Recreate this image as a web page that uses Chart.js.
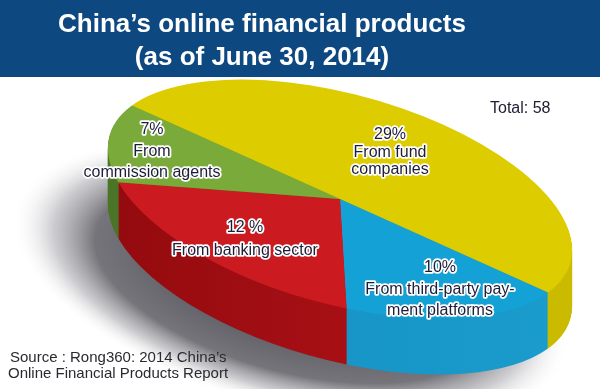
<!DOCTYPE html>
<html>
<head>
<meta charset="utf-8">
<script src="https://cdn.jsdelivr.net/npm/chart.js@4.4.1/dist/chart.umd.min.js"></script>
<style>
  body { margin: 0; background: #fff; }
  #wrap { width: 600px; height: 389px; }
</style>
</head>
<body>
<div id="wrap"><canvas id="pie"></canvas></div>
<script>
// data (counts, total 58)
var categories = ["From fund companies", "From third-party payment platforms", "From banking sector", "From commission agents"];
var values = [29, 10, 12, 7];
var shareText = ["29%", "10%", "12 %", "7%"];
var labelText = [
  ["From fund", "companies"],
  ["From third-party pay-", "ment platforms"],
  ["From banking sector"],
  ["From", "commission agents"]
];
var totalText = "Total: 58";
var titleLines = ["China\u2019s online financial products", "(as of June 30, 2014)"];
var sourceLines = ["Source : Rong360: 2014 China\u2019s", "Online Financial Products Report"];

// styles and placement
var topColors = ["#dccc00", "#14a2d6", "#cc1a21", "#79aa3a"];
var sideColors = [["#b5a500", "#cbbb00"], ["#138fc0", "#1a9ccd"], ["#930a0e", "#b8151b"], ["#4a7426", "#5b8a31"]];
var ell = { cx: 340, cy: 199, a: 239, b: 105, tilt: 15.4, depth: 56 };
var labelPos = [
  { x: 390, y: [139, 157, 174] },
  { x: 440, y: [272, 293.5, 315] },
  { x: 245, y: [232, 255] },
  { x: 152, y: [134, 156, 177] }
];

function toEllipse(ctx, p0, dx, dy) {
  ctx.translate(ell.cx + dx, ell.cy + dy);
  ctx.rotate(ell.tilt * Math.PI / 180);
  ctx.scale(ell.a / p0.outerRadius, ell.b / p0.outerRadius);
  ctx.translate(-p0.x, -p0.y);
}

function outlined(ctx, txt, x, y) {
  ctx.strokeText(txt, x, y);
  ctx.fillText(txt, x, y);
}

var pie3d = {
  id: "pie3d",
  beforeDatasetsDraw: function (chart) {
    var ctx = chart.ctx;
    var arcs = chart.getDatasetMeta(0).data;
    var p0 = arcs[0].getProps(["x", "y", "outerRadius"], true);
    var r = p0.outerRadius;

    // soft shadow under the pie (elliptical radial gradient)
    ctx.save();
    toEllipse(ctx, p0, -50, ell.depth + 28);
    var sg = ctx.createRadialGradient(p0.x, p0.y, 0, p0.x, p0.y, r * 1.2);
    sg.addColorStop(0, "rgba(45,45,52,0.92)");
    sg.addColorStop(0.7, "rgba(70,70,78,0.75)");
    sg.addColorStop(0.85, "rgba(130,130,138,0.4)");
    sg.addColorStop(1, "rgba(255,255,255,0)");
    ctx.beginPath();
    ctx.arc(p0.x, p0.y, r * 1.2, 0, Math.PI * 2);
    ctx.fillStyle = sg;
    ctx.fill();
    ctx.restore();

    // side walls: stacked copies of each slice
    var grads = sideColors.map(function (c) {
      var g = ctx.createLinearGradient(100, 0, 570, 0);
      g.addColorStop(0, c[0]);
      g.addColorStop(1, c[1]);
      return g;
    });
    for (var d = ell.depth; d >= 1; d--) {
      arcs.forEach(function (arc, i) {
        var p = arc.getProps(["x", "y", "startAngle", "endAngle", "outerRadius"], true);
        ctx.save();
        toEllipse(ctx, p0, 0, d);
        ctx.beginPath();
        ctx.moveTo(p.x, p.y);
        ctx.arc(p.x, p.y, p.outerRadius, p.startAngle, p.endAngle);
        ctx.closePath();
        ctx.setTransform(1, 0, 0, 1, 0, 0);
        ctx.fillStyle = grads[i];
        ctx.fill();
        ctx.restore();
      });
    }

    // top face is drawn by Chart.js under this transform
    ctx.save();
    toEllipse(ctx, p0, 0, 0);
  },
  afterDatasetsDraw: function (chart) {
    var ctx = chart.ctx;
    ctx.restore();

    // title bar
    ctx.save();
    ctx.fillStyle = "#0e4880";
    ctx.fillRect(0, 0, chart.width, 77);
    ctx.fillStyle = "#fff";
    ctx.textAlign = "center";
    ctx.textBaseline = "alphabetic";
    ctx.font = "bold 26px 'Liberation Sans', Arial, sans-serif";
    ctx.fillText(titleLines[0], 262, 32);
    ctx.fillText(titleLines[1], 262, 65);

    // slice labels
    ctx.font = "16px 'Liberation Sans', Arial, sans-serif";
    ctx.lineJoin = "round";
    ctx.lineWidth = 3.5;
    ctx.strokeStyle = "#fff";
    ctx.fillStyle = "#1d1d3a";
    labelPos.forEach(function (pos, i) {
      var lines = [shareText[i]].concat(labelText[i]);
      lines.forEach(function (t, k) {
        outlined(ctx, t, pos.x, pos.y[k]);
      });
    });

    ctx.textAlign = "left";
    ctx.fillStyle = "#202036";
    ctx.fillText(totalText, 490, 113);

    ctx.font = "15px 'Liberation Sans', Arial, sans-serif";
    ctx.fillStyle = "#2a2a30";
    ctx.fillText(sourceLines[0], 10, 362);
    ctx.fillText(sourceLines[1], 8, 378);
    ctx.restore();
  }
};

var myChart = new Chart(document.getElementById("pie"), {
  type: "pie",
  plugins: [pie3d],
  data: {
    labels: categories,
    datasets: [{
      data: values,
      backgroundColor: topColors,
      borderWidth: 0
    }]
  },
  options: {
    responsive: true,
    maintainAspectRatio: false,
    animation: false,
    events: [],
    rotation: 289.4,
    layout: { padding: 0 },
    plugins: {
      legend: { display: false },
      tooltip: { enabled: false },
      title: { display: false }
    }
  }
});
</script>
</body>
</html>
